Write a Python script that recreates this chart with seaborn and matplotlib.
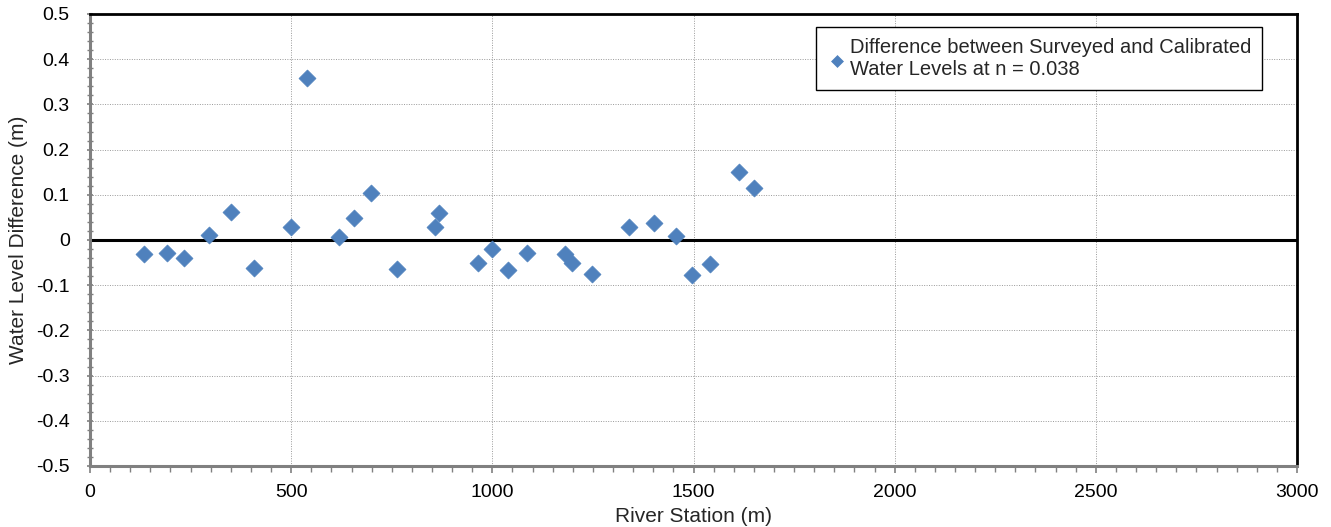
import matplotlib
matplotlib.use("Agg")
import matplotlib.pyplot as plt
from matplotlib.ticker import MultipleLocator, FuncFormatter
import seaborn as sns
import pandas as pd

station = [135, 192, 234, 297, 351, 408, 500, 539, 620, 657, 699, 763, 858, 868,
           965, 1000, 1039, 1086, 1180, 1198, 1247, 1339, 1403, 1457, 1497, 1540,
           1612, 1650]
difference = [-0.031, -0.028, -0.040, 0.010, 0.063, -0.062, 0.029, 0.358, 0.007,
              0.048, 0.104, -0.065, 0.029, 0.060, -0.050, -0.019, -0.066, -0.029,
              -0.031, -0.050, -0.075, 0.029, 0.038, 0.008, -0.077, -0.053, 0.150,
              0.116]
series_label = "Difference between Surveyed and Calibrated\nWater Levels at n = 0.038"

sns.set_style("white")
plt.rcParams['font.family'] = ['Liberation Sans', 'DejaVu Sans']

df = pd.DataFrame({"station": station, "diff": difference})

fig = plt.figure(figsize=(13.31, 5.27), dpi=100)
ax = fig.add_axes([90 / 1331, 1 - 466 / 527, (1297 - 90) / 1331, (466 - 14) / 527])

ax.set_xlim(0, 3000)
ax.set_ylim(-0.5, 0.5)
ax.xaxis.set_major_locator(MultipleLocator(500))
ax.xaxis.set_minor_locator(MultipleLocator(50))
ax.yaxis.set_major_locator(MultipleLocator(0.1))
ax.yaxis.set_minor_locator(MultipleLocator(0.02))

def yfmt(v, pos):
    if abs(v) < 1e-9:
        return "0"
    return f"{v:.1f}"
ax.yaxis.set_major_formatter(FuncFormatter(yfmt))

ax.grid(True, which="major", linestyle=(0, (1, 1.5)), color="#999999", linewidth=0.7)
ax.set_axisbelow(True)

ax.axhline(0, color="black", linewidth=2.2, zorder=2)

sns.scatterplot(data=df, x="station", y="diff", ax=ax, marker="D", s=75,
                color="#4f81bd", edgecolor="#4f81bd", linewidth=0.5,
                label=series_label, zorder=3)

for side in ["top", "right"]:
    ax.spines[side].set_color("black")
    ax.spines[side].set_linewidth(2.0)
for side in ["left", "bottom"]:
    ax.spines[side].set_color("#808080")
    ax.spines[side].set_linewidth(2.2)

ax.tick_params(axis="both", which="both", bottom=True, left=True, top=False, right=False)
ax.tick_params(axis="both", which="major", labelsize=14, colors="#808080",
               labelcolor="black", length=5, width=1.2)
ax.tick_params(axis="both", which="minor", colors="#808080", length=4, width=1.0)
ax.tick_params(axis="y", which="both", direction="inout")
ax.tick_params(axis="y", which="major", pad=12)
ax.tick_params(axis="x", which="both", direction="out")
ax.tick_params(axis="x", which="major", pad=8)

ax.set_xlabel("River Station (m)", fontsize=15, labelpad=4)
ax.set_ylabel("Water Level Difference (m)", fontsize=15, labelpad=6)

leg = ax.legend(loc="upper right", bbox_to_anchor=(0.971, 0.9712), borderaxespad=0,
                fontsize=14.5, frameon=True, fancybox=False, edgecolor="black",
                framealpha=1, handletextpad=0.1, borderpad=0.55, handlelength=1.0,
                markerscale=0.7, labelspacing=0.3)
leg.get_frame().set_linewidth(1.0)

fig.savefig("out.png", dpi=100)
